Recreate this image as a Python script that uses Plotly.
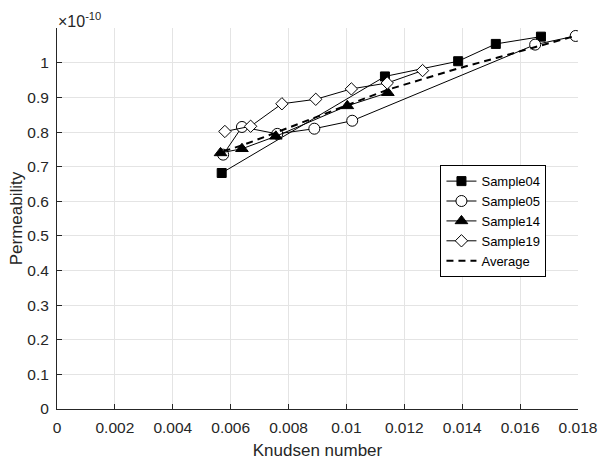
import plotly.graph_objects as go

# Knudsen number vs. permeability (permeability in units of 1e-10)
s04_kn = [0.00569, 0.01133, 0.01386, 0.01516, 0.01672]
s04_k = [0.682, 0.961, 1.005, 1.055, 1.076]

s05_kn = [0.00574, 0.00639, 0.00761, 0.00889, 0.01020, 0.01652, 0.01792]
s05_k = [0.735, 0.815, 0.795, 0.810, 0.833, 1.053, 1.078]

s14_kn = [0.00565, 0.00639, 0.00756, 0.01003, 0.01143]
s14_k = [0.740, 0.752, 0.788, 0.876, 0.914]

s19_kn = [0.00580, 0.00669, 0.00777, 0.00894, 0.01017, 0.01141, 0.01263]
s19_k = [0.802, 0.817, 0.882, 0.895, 0.925, 0.942, 0.978]

avg_kn = [0.00575, 0.0064, 0.0076, 0.0089, 0.0102, 0.0114, 0.0127, 0.0139, 0.0152, 0.0166, 0.0179]
avg_k = [0.745, 0.762, 0.800, 0.842, 0.885, 0.922, 0.955, 0.985, 1.015, 1.047, 1.078]

x_ticks = [0, 0.002, 0.004, 0.006, 0.008, 0.01, 0.012, 0.014, 0.016, 0.018]
x_tick_text = ["0", "0.002", "0.004", "0.006", "0.008", "0.01", "0.012", "0.014", "0.016", "0.018"]
y_ticks = [0, 0.1, 0.2, 0.3, 0.4, 0.5, 0.6, 0.7, 0.8, 0.9, 1.0]
y_tick_text = ["0", "0.1", "0.2", "0.3", "0.4", "0.5", "0.6", "0.7", "0.8", "0.9", "1"]

FONT = "Liberation Sans, Arial, sans-serif"
BLACK = "#000000"

fig = go.Figure()

series = [
    ("Sample04", s04_kn, s04_k, dict(symbol="square", size=9, color=BLACK, line=dict(color=BLACK, width=1))),
    ("Sample05", s05_kn, s05_k, dict(symbol="circle", size=11, color="white", line=dict(color=BLACK, width=1))),
    ("Sample14", s14_kn, s14_k, dict(symbol="triangle-up", size=11, color=BLACK, line=dict(color=BLACK, width=1))),
    ("Sample19", s19_kn, s19_k, dict(symbol="diamond", size=9.5, color="white", line=dict(color=BLACK, width=1))),
]
for name, xs, ys, marker in series:
    fig.add_trace(go.Scatter(
        x=xs, y=ys, name=name, mode="lines+markers",
        line=dict(color=BLACK, width=1), marker=marker,
    ))

fig.add_trace(go.Scatter(
    x=avg_kn, y=avg_k, name="Average", mode="lines",
    line=dict(color=BLACK, width=2, dash="7px,5px"),
))

axis_common = dict(
    showline=True, linecolor="#262626", linewidth=1,
    ticks="inside", ticklen=5, tickcolor="#262626",
    showgrid=True, gridcolor="#e4e4e4", gridwidth=1,
    zeroline=False, mirror=False, automargin=False,
    tickfont=dict(family=FONT, size=15.5, color="#262626"),
    title_font=dict(family=FONT, size=17, color="#262626"),
)

fig.update_xaxes(
    range=[0, 0.018], tickvals=x_ticks, ticktext=x_tick_text,
    title_text="Knudsen number", title_standoff=9, ticklabelstandoff=4,
    **axis_common,
)
fig.update_yaxes(
    range=[0, 1.101], tickvals=y_ticks, ticktext=y_tick_text,
    title_text="Permeability", title_standoff=0, ticklabelstandoff=4,
    **axis_common,
)

fig.add_annotation(
    text="\u00d710<sup>-10</sup>", xref="paper", yref="paper",
    x=0, y=1, xanchor="left", yanchor="bottom", showarrow=False,
    font=dict(family=FONT, size=16, color="#262626"), xshift=-1, yshift=-4,
)

fig.update_layout(
    width=598, height=462,
    margin=dict(l=57, r=20, t=28, b=53),
    plot_bgcolor="white", paper_bgcolor="white",
    showlegend=True,
    legend=dict(
        x=0.736, y=0.640, xanchor="left", yanchor="top",
        bgcolor="white", bordercolor=BLACK, borderwidth=1,
        font=dict(family=FONT, size=13, color=BLACK),
        tracegroupgap=0, itemwidth=30,
    ),
)

fig.write_html("out.html")
